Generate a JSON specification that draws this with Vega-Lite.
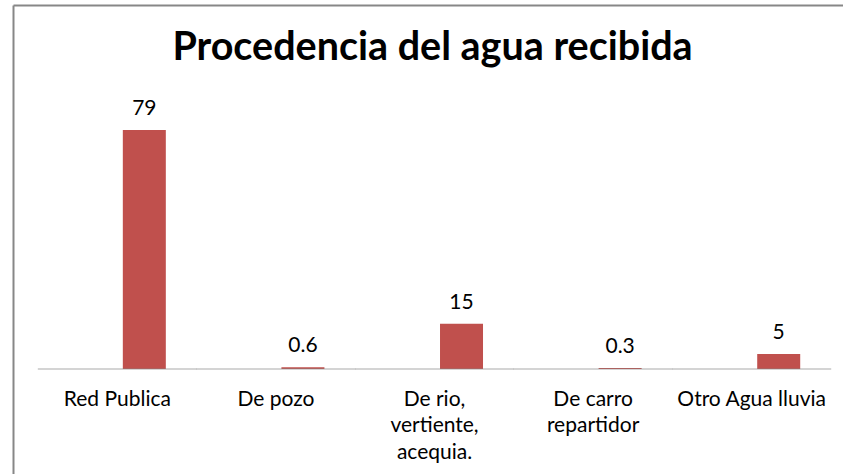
{
  "$schema": "https://vega.github.io/schema/vega-lite/v6.json",
  "width": 830,
  "height": 469,
  "autosize": {"type": "none"},
  "padding": {"left": 13, "top": 5, "right": 0, "bottom": 0},
  "background": "white",
  "config": {"view": {"stroke": null}, "font": "Lato"},
  "data": {
    "values": [
      {"cat": "Red Publica", "value": 79, "label": "79"},
      {"cat": "De pozo", "value": 0.6, "label": "0.6"},
      {"cat": "De rio, vertiente, acequia.", "value": 15, "label": "15"},
      {"cat": "De carro repartidor", "value": 0.3, "label": "0.3"},
      {"cat": "Otro Agua lluvia", "value": 5, "label": "5"}
    ]
  },
  "resolve": {"axis": {"x": "independent"}},
  "layer": [
    {
      "mark": {"type": "bar", "color": "#C0504D", "width": 43, "xOffset": 27},
      "encoding": {
        "x": {
          "field": "cat",
          "type": "nominal",
          "sort": null,
          "scale": {"paddingInner": 0, "paddingOuter": 0.1167, "align": 0.676},
          "axis": {
            "orient": "bottom",
            "offset": -105,
            "title": null,
            "domain": false,
            "ticks": false,
            "labelAngle": 0,
            "labelFont": "Lato",
            "labelFontSize": 21,
            "labelColor": "#000000",
            "labelPadding": 19,
            "labelLineHeight": 26.5,
            "labelBaseline": "top",
            "labelLimit": 300,
            "labelExpr": "datum.value == 'De rio, vertiente, acequia.' ? ['De rio,', 'vertiente,', 'acequia.'] : datum.value == 'De carro repartidor' ? ['De carro', 'repartidor'] : datum.value"
          }
        },
        "y": {
          "field": "value",
          "type": "quantitative",
          "scale": {"domain": [-34.71, 120.33], "nice": false, "zero": false},
          "axis": {
            "title": null,
            "labels": false,
            "ticks": false,
            "grid": false,
            "domain": true,
            "domainColor": "#878787",
            "domainWidth": 2
          }
        },
        "y2": {"datum": 0}
      }
    },
    {
      "mark": {"type": "text", "xOffset": 27, "dy": -21, "baseline": "middle", "font": "Lato", "fontSize": 21, "color": "#000000"},
      "encoding": {
        "x": {"field": "cat", "type": "nominal", "sort": null, "axis": null},
        "y": {"field": "value", "type": "quantitative"},
        "text": {"field": "label"}
      }
    },
    {
      "mark": {"type": "tick", "orient": "horizontal", "size": 159, "thickness": 1, "color": "#868686"},
      "encoding": {
        "x": {
          "field": "cat",
          "type": "nominal",
          "sort": null,
          "axis": {
            "orient": "top",
            "title": "Procedencia del agua recibida",
            "titleFont": "Lato",
            "titleFontSize": 39.5,
            "titleFontWeight": "bold",
            "titleColor": "#000000",
            "titleX": 419,
            "titleY": 54,
            "titleAlign": "center",
            "titleBaseline": "alphabetic",
            "titleLimit": 800,
            "labels": false,
            "ticks": false,
            "domain": true,
            "domainColor": "#878787",
            "domainWidth": 2
          }
        },
        "y": {"datum": 0, "type": "quantitative"}
      }
    }
  ]
}
